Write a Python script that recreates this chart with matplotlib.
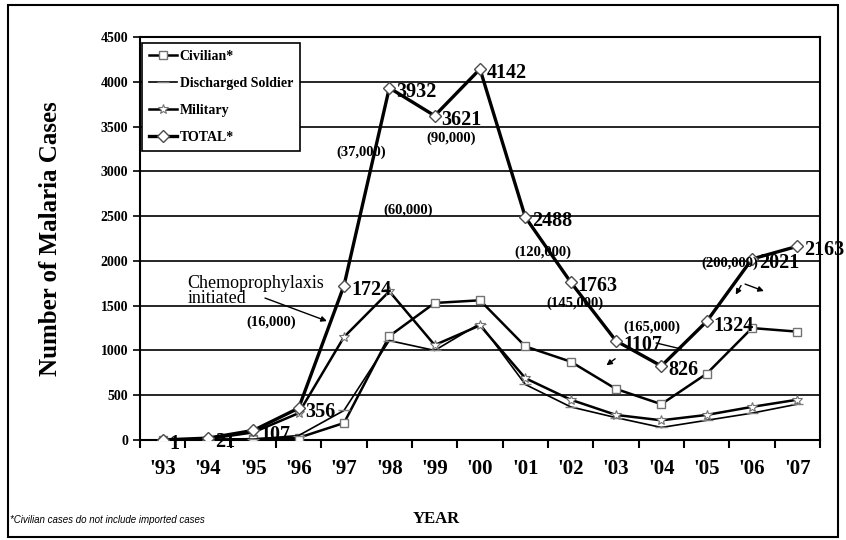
import numpy as np
import matplotlib
matplotlib.use("Agg")
import matplotlib.pyplot as plt
from matplotlib.patches import Rectangle

#-------------------#
# Data
#-------------------#
years = ["'93", "'94", "'95", "'96", "'97", "'98", "'99", "'00",
         "'01", "'02", "'03", "'04", "'05", "'06", "'07"]
total = [1, 21, 107, 356, 1724, 3932, 3621, 4142, 2488, 1763, 1107, 826, 1324, 2021, 2163]
civilian = [0, 5, 10, 25, 190, 1160, 1530, 1560, 1045, 875, 570, 400, 740, 1250, 1210]
military = [1, 12, 85, 300, 1150, 1660, 1060, 1280, 690, 450, 280, 220, 280, 370, 450]
discharged = [0, 4, 10, 50, 330, 1110, 1000, 1300, 620, 370, 250, 140, 220, 300, 400]

# population notes (text, x, y)
pop_notes = [("(16,000)", 2.40, 1317), ("(37,000)", 4.39, 3214),
             ("(60,000)", 5.42, 2567), ("(90,000)", 6.37, 3370),
             ("(120,000)", 8.38, 2098), ("(145,000)", 9.10, 1530),
             ("(165,000)", 10.80, 1261), ("(200,000)", 12.50, 1975)]

#-------------------#
# Style
#-------------------#
serif = "Liberation Serif"
plt.rcParams['font.family'] = serif

fig = plt.figure(figsize=(8.46, 5.40), dpi=100)
ax = fig.add_axes([140/846, 1-440/540, 680/846, 403/540])

x = np.arange(len(years))

ax.plot(x, civilian, color='k', lw=1.8, marker='s', ms=6, mfc='white', mec='0.45', mew=1.0,
        label="Civilian*", zorder=4)
ax.plot(x, discharged, color='k', lw=1.2, marker='_', ms=8, mec='0.5', mew=1.0,
        label="Discharged Soldier", zorder=4)
ax.plot(x, military, color='k', lw=1.8, marker='*', ms=7, mfc='white', mec='0.45', mew=0.8,
        label="Military", zorder=4)
ax.plot(x, total, color='k', lw=2.4, marker='D', ms=6, mfc='white', mec='0.3', mew=1.0,
        label="TOTAL*", zorder=5)

# value labels on TOTAL
for i, v in enumerate(total):
    ax.annotate(str(v), (x[i], v), xytext=(5, -3), textcoords='offset points',
                ha='left', va='center', fontsize=14.5, fontweight='bold', zorder=6)

for t, px, py in pop_notes:
    ax.text(px, py, t, ha='center', va='center', fontsize=10.5, fontweight='bold', zorder=6)

ax.text(0.55, 1663, "Chemoprophylaxis\ninitiated", ha='left', va='center',
        fontsize=13, linespacing=0.9, zorder=6)
ax.annotate("", xy=(3.68, 1317), xytext=(2.20, 1596),
            arrowprops=dict(arrowstyle='-|>', color='k', lw=1.0, mutation_scale=8))
ax.annotate("", xy=(9.74, 815), xytext=(10.03, 926),
            arrowprops=dict(arrowstyle='-|>', color='k', lw=1.0, mutation_scale=8))
ax.plot([10.89, 11.44], [1083, 1016], color='k', lw=1.0)
ax.annotate("", xy=(12.61, 1596), xytext=(12.79, 1752),
            arrowprops=dict(arrowstyle='-|>', color='k', lw=1.0, mutation_scale=8))
ax.annotate("", xy=(13.32, 1652), xytext=(12.79, 1752),
            arrowprops=dict(arrowstyle='-|>', color='k', lw=1.0, mutation_scale=8))

#-------------------#
# Axes
#-------------------#
ax.set_xlim(-0.5, 14.5)
ax.set_ylim(0, 4500)
ax.set_yticks(np.arange(0, 4501, 500))
ax.yaxis.grid(True, color='k', lw=1.2)
ax.set_axisbelow(True)
for s in ax.spines.values():
    s.set_linewidth(1.5)

ax.set_xticks(x)
ax.set_xticklabels(years, fontsize=15, fontweight='bold')
ax.set_xticks(np.arange(-0.5, 15, 1), minor=True)
ax.tick_params(axis='x', which='major', length=0, pad=14)
ax.tick_params(axis='x', which='minor', length=6, width=1.5, direction='out')
ax.tick_params(axis='y', length=5, width=1.2, direction='out', labelsize=10)
for lab in ax.get_yticklabels():
    lab.set_fontweight('bold')

ax.set_ylabel("Number of Malaria Cases", fontsize=18, fontweight='bold', labelpad=28)

leg = ax.legend(loc='upper left', bbox_to_anchor=(0.003, 0.985), fancybox=False,
                edgecolor='k', framealpha=1, handlelength=2.0, handletextpad=0.2,
                labelspacing=1.0, borderpad=0.5, borderaxespad=0,
                prop={'family': serif, 'weight': 'bold', 'size': 10})
leg.get_frame().set_linewidth(1.2)

fig.text(436/846, 1-519/540, "YEAR", ha='center', va='center', fontsize=12, fontweight='bold')
fig.text(10/846, 1-520/540, "*Civilian cases do not include imported cases", ha='left',
         va='center', fontsize=7, style='italic', family='Liberation Sans')

fig.patches.append(Rectangle((8/846, 1-537/540), 830/846, 532/540, transform=fig.transFigure,
                             fill=False, edgecolor='k', lw=1.5))

fig.savefig("out.png", dpi=100)
